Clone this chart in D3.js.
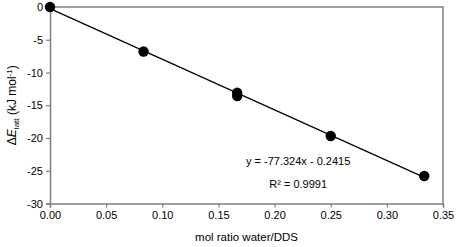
<!DOCTYPE html>
<html>
<head>
  <meta charset="utf-8">
  <script src="https://cdn.jsdelivr.net/npm/d3@7"></script>
  <style>
    body { margin: 0; background: #fff; }
    text { font-family: "Liberation Sans", Arial, sans-serif; fill: #000; }
  </style>
</head>
<body>
  <svg id="chart" width="459" height="247"></svg>
  <script>
    // data
    var ratio = [0, 0.0833, 0.1667, 0.1667, 0.25, 0.3333];
    var energy = [0, -6.8, -13.1, -13.6, -19.7, -25.8];
    var fitSlope = -77.324, fitIntercept = -0.2415;
    var xTicks = [0, 0.05, 0.1, 0.15, 0.2, 0.25, 0.3, 0.35];
    var yTicks = [0, -5, -10, -15, -20, -25, -30];

    var svg = d3.select("#chart"),
      margin = { top: 7, right: 16, bottom: 43.5, left: 50 },
      width = +svg.attr("width") - margin.left - margin.right,
      height = +svg.attr("height") - margin.top - margin.bottom;

    var x = d3.scaleLinear().domain([0, 0.35]).range([0, width]);
    var y = d3.scaleLinear().domain([-30, 0]).range([height, 0]);

    var g = svg.append("g")
      .attr("transform", "translate(" + margin.left + "," + margin.top + ")");

    // frame (top / right)
    g.append("path")
      .attr("d", "M0,0H" + width + "V" + height)
      .attr("fill", "none")
      .attr("stroke", "#808080")
      .attr("stroke-width", 1.5);

    var xAxis = g.append("g")
      .attr("transform", "translate(0," + height + ")")
      .call(d3.axisBottom(x).tickValues(xTicks).tickFormat(d3.format(".2f")).tickSize(4).tickPadding(4));

    var yAxis = g.append("g")
      .call(d3.axisLeft(y).tickValues(yTicks).tickFormat(d => d).tickSize(4).tickPadding(3));

    [xAxis, yAxis].forEach(function (a) {
      a.select(".domain").attr("stroke", "#808080").attr("stroke-width", 1.5);
      a.selectAll(".tick line").attr("stroke", "#808080").attr("stroke-width", 1.2);
      a.selectAll(".tick text").style("font-size", "11px").attr("fill", "#000");
    });

    // regression line
    var xs = [0, d3.max(ratio)];
    g.append("line")
      .attr("x1", x(xs[0])).attr("y1", y(fitSlope * xs[0] + fitIntercept))
      .attr("x2", x(xs[1])).attr("y2", y(fitSlope * xs[1] + fitIntercept))
      .attr("stroke", "#000")
      .attr("stroke-width", 1.2);

    g.selectAll("circle")
      .data(ratio)
      .enter()
      .append("circle")
      .attr("cx", d => x(d))
      .attr("cy", (d, i) => y(energy[i]))
      .attr("r", 5.2)
      .attr("fill", "#000");

    // equation
    g.append("text")
      .attr("x", x(0.221)).attr("y", y(-24.1))
      .attr("text-anchor", "middle")
      .style("font-size", "11px")
      .text("y = -77.324x - 0.2415");
    g.append("text")
      .attr("x", x(0.221)).attr("y", y(-27.6))
      .attr("text-anchor", "middle")
      .style("font-size", "11px")
      .text("R² = 0.9991");

    // axis titles
    svg.append("text")
      .attr("x", margin.left + width / 2)
      .attr("y", 241)
      .attr("text-anchor", "middle")
      .style("font-size", "11.5px")
      .text("mol ratio water/DDS");

    var yl = svg.append("text")
      .attr("transform", "translate(16," + (margin.top + height / 2) + ") rotate(-90)")
      .attr("text-anchor", "middle")
      .style("font-size", "12px");
    yl.append("tspan").text("Δ");
    yl.append("tspan").style("font-style", "italic").text("E");
    yl.append("tspan").attr("dy", 3).style("font-size", "8px").text("latt");
    yl.append("tspan").attr("dy", -3).text(" (kJ mol");
    yl.append("tspan").attr("dy", -4).style("font-size", "8px").text("-1");
    yl.append("tspan").attr("dy", 4).text(")");
  </script>
</body>
</html>
